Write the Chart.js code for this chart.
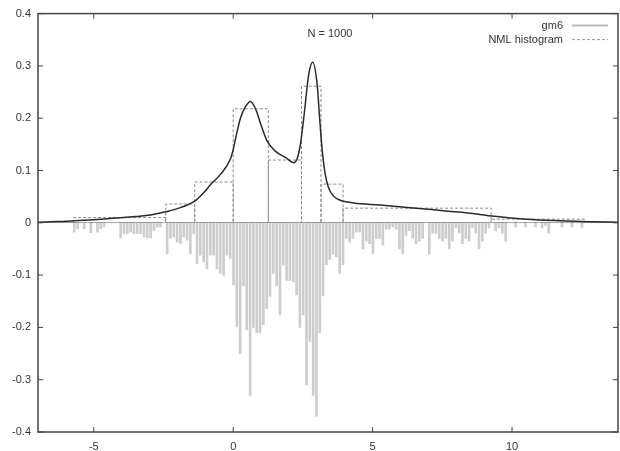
<!DOCTYPE html>
<html>
<head>
<meta charset="utf-8">
<script src="https://cdn.jsdelivr.net/npm/chart.js"></script>
<style>
  body { margin: 0; background: #fff; }
</style>
</head>
<body>
<canvas id="gmChart" width="620" height="451"></canvas>
<script>
// gm6 density curve (x, y)
const curveX = [-7, -6.5, -6, -5.7, -5, -4.15, -3.5, -2.96, -2.42, -1.89, -1.37, -1.05, -0.81, -0.45, -0.1, 0, 0.1, 0.26, 0.44, 0.62, 0.8, 0.98, 1.22, 1.51, 1.9, 2.17, 2.29, 2.41, 2.53, 2.71, 2.85, 3.01, 3.1, 3.19, 3.3, 3.42, 3.6, 3.84, 4.32, 5.27, 6.35, 7.54, 8.74, 9.27, 10.53, 11.7, 12.8, 13.8];
const curveY = [0.001, 0.002, 0.003, 0.004, 0.006, 0.009, 0.012, 0.015, 0.021, 0.029, 0.042, 0.058, 0.073, 0.093, 0.122, 0.14, 0.165, 0.2, 0.222, 0.232, 0.218, 0.19, 0.156, 0.137, 0.124, 0.115, 0.122, 0.15, 0.2, 0.284, 0.307, 0.265, 0.2, 0.14, 0.093, 0.067, 0.051, 0.043, 0.038, 0.034, 0.029, 0.023, 0.017, 0.013, 0.007, 0.004, 0.002, 0.001];

// NML histogram: bin edges and heights
const binEdges = [-5.73, -2.42, -1.38, 0, 1.26, 2.45, 3.15, 3.94, 9.25, 12.6];
const binHeights = [0.01, 0.036, 0.078, 0.218, 0.12, 0.261, 0.074, 0.028, 0.007];

// fine histogram drawn downwards (grey spikes)
const spikeStart = -5.7;
const spikeStep = 0.119;
const spikeVals = [
  -0.018, -0.011, 0, -0.011, 0, -0.019, 0, -0.018, -0.011, -0.008,
  0, 0, 0, 0, -0.029, -0.021, -0.021, -0.018, -0.021, -0.021,
  -0.021, -0.027, -0.029, -0.029, -0.015, -0.008, -0.008, 0, -0.059, -0.030,
  -0.027, -0.037, -0.040, -0.027, -0.033, -0.059, -0.021, -0.078, -0.062, -0.075,
  -0.088, -0.062, -0.062, -0.088, -0.097, -0.100, -0.062, -0.068, -0.119, -0.199,
  -0.25, -0.12, -0.205, -0.33, -0.20, -0.21, -0.21, -0.195, -0.164, -0.141,
  -0.097, -0.12, -0.176, -0.081, -0.11, -0.11, -0.113, -0.138, -0.20, -0.176,
  -0.31, -0.227, -0.33, -0.37, -0.21, -0.14, -0.08, -0.07, -0.06, -0.065,
  -0.097, -0.08, -0.03, -0.037, -0.03, -0.018, -0.018, -0.05, -0.035, -0.04,
  -0.059, -0.03, -0.03, -0.043, -0.012, -0.012, -0.008, -0.012, -0.05, -0.059,
  -0.024, -0.015, -0.03, -0.04, -0.035, -0.03, 0, -0.06, -0.02, -0.02,
  -0.03, -0.035, -0.03, -0.05, -0.035, -0.01, -0.02, -0.04, -0.03, -0.035,
  -0.01, -0.02, -0.05, -0.035, -0.02, -0.01, 0, -0.015, -0.01, -0.02,
  -0.035, 0, 0, -0.008, 0, 0, -0.008, 0, 0, -0.008,
  0, -0.01, -0.005, -0.02, 0, 0, 0, -0.008, 0, 0,
  -0.008, 0, 0, -0.01
];

const xTickStep = 5;
const yTickStep = 0.1;

// build datasets
const curvePts = curveX.map((x, i) => ({ x: x, y: curveY[i] }));
const spikePts = spikeVals.map((v, i) => ({ x: spikeStart + i * spikeStep, y: v }));
const histPts = [{ x: binEdges[0], y: 0 }];
binHeights.forEach((h, i) => {
    histPts.push({ x: binEdges[i], y: h });
    histPts.push({ x: binEdges[i + 1], y: h });
    histPts.push({ x: binEdges[i + 1], y: 0 });
});

Chart.defaults.font.family = '"Liberation Sans", Arial, sans-serif';
Chart.defaults.font.size = 11;
Chart.defaults.color = '#333';

// frame with inward ticks, annotation and legend, gnuplot style
const framePlugin = {
    id: 'frame',
    afterDatasetsDraw(chart) {
        const { ctx, chartArea: a, scales } = chart;
        const line = (x1, y1, x2, y2) => {
            ctx.beginPath(); ctx.moveTo(x1, y1); ctx.lineTo(x2, y2); ctx.stroke();
        };
        ctx.save();
        ctx.strokeStyle = '#444';
        ctx.lineWidth = 1.5;
        ctx.strokeRect(a.left, a.top, a.right - a.left, a.bottom - a.top);
        ctx.lineWidth = 1;
        scales.x.ticks.forEach(t => {
            const px = scales.x.getPixelForValue(t.value);
            line(px, a.bottom, px, a.bottom - 5);
            line(px, a.top, px, a.top + 5);
        });
        scales.y.ticks.forEach(t => {
            const py = scales.y.getPixelForValue(t.value);
            line(a.left, py, a.left + 5, py);
            line(a.right, py, a.right - 5, py);
        });

        ctx.fillStyle = '#333';
        ctx.font = '11px "Liberation Sans", Arial, sans-serif';
        ctx.textBaseline = 'middle';
        ctx.textAlign = 'center';
        ctx.fillText('N = 1000', scales.x.getPixelForValue(3.47), scales.y.getPixelForValue(0.362));

        // legend
        ctx.textAlign = 'right';
        const tx = a.right - 55;
        ctx.fillText('gm6', tx, a.top + 12);
        ctx.fillText('NML histogram', tx, a.top + 26);
        ctx.strokeStyle = '#bbb';
        ctx.lineWidth = 2;
        line(a.right - 46, a.top + 12, a.right - 10, a.top + 12);
        ctx.strokeStyle = '#999';
        ctx.lineWidth = 1;
        ctx.setLineDash([3, 2]);
        line(a.right - 46, a.top + 26, a.right - 10, a.top + 26);
        ctx.restore();
    }
};

new Chart(document.getElementById('gmChart'), {
    type: 'bar',
    data: {
        datasets: [
            {
                type: 'line',
                label: 'gm6',
                data: curvePts,
                borderColor: '#2a2a2a',
                borderWidth: 1.5,
                pointRadius: 0,
                cubicInterpolationMode: 'monotone',
                fill: false,
                order: 1
            },
            {
                type: 'line',
                label: 'NML histogram',
                data: histPts,
                borderColor: '#8a8a8a',
                borderWidth: 1,
                borderDash: [3, 2],
                pointRadius: 0,
                tension: 0,
                fill: false,
                order: 2
            },
            {
                type: 'bar',
                label: 'fine',
                data: spikePts,
                backgroundColor: '#cdcdcd',
                barThickness: 2,
                order: 3
            }
        ]
    },
    options: {
        responsive: false,
        animation: false,
        layout: { padding: { top: 12, right: 2, left: 0, bottom: 0 } },
        plugins: {
            legend: { display: false },
            tooltip: { enabled: false }
        },
        scales: {
            x: {
                type: 'linear',
                min: -7,
                max: 13.8,
                offset: false,
                ticks: { stepSize: xTickStep, includeBounds: false, padding: 8, color: '#333' },
                grid: { display: false, drawTicks: false },
                border: { display: false },
                afterFit: s => { s.height = 19; }
            },
            y: {
                min: -0.4,
                max: 0.4,
                ticks: {
                    stepSize: yTickStep,
                    padding: 7,
                    color: '#333',
                    callback: v => String(+v.toFixed(1))
                },
                grid: {
                    drawTicks: false,
                    color: ctx => Math.abs(ctx.tick.value) < 1e-9 ? '#999' : 'rgba(0,0,0,0)',
                    lineWidth: 1
                },
                border: { display: false },
                afterFit: s => { s.width = 38; }
            }
        }
    },
    plugins: [framePlugin]
});
</script>
</body>
</html>
